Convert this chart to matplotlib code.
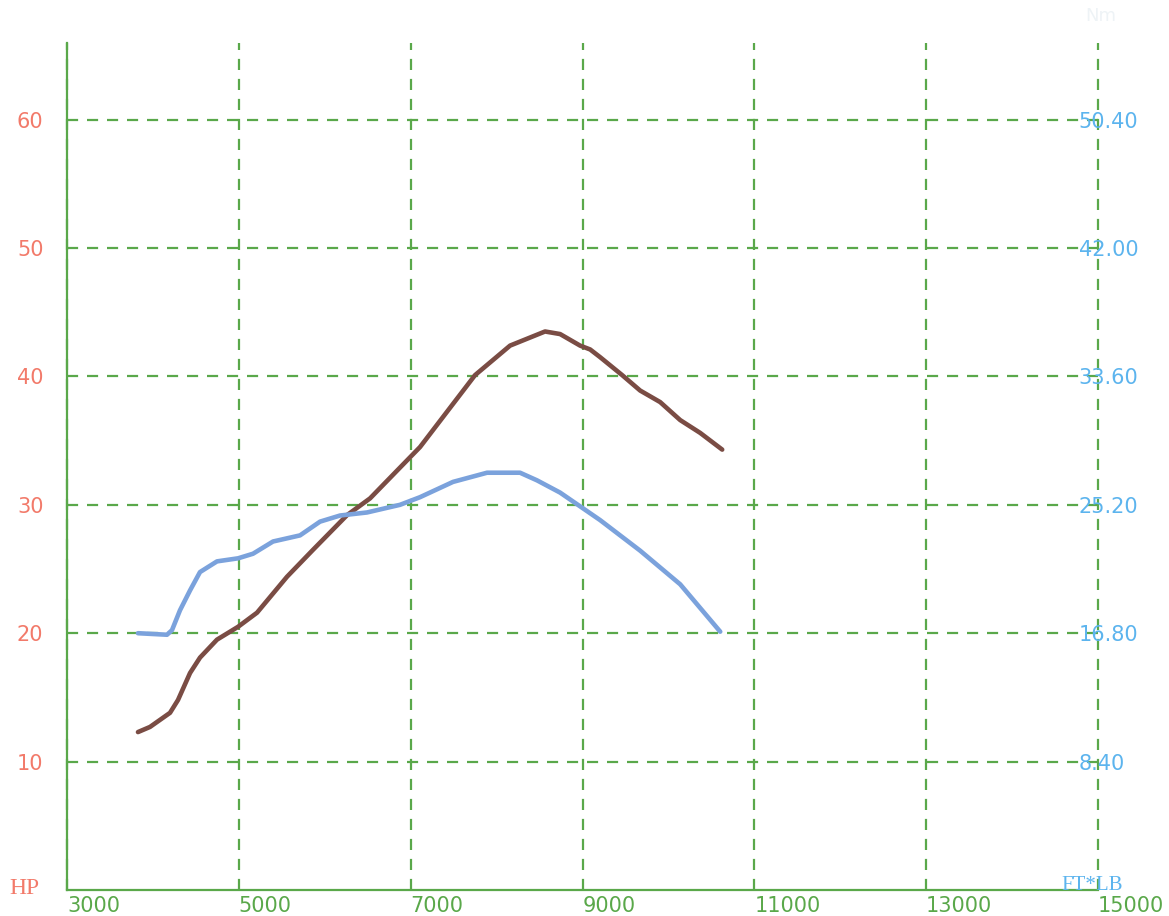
import matplotlib
matplotlib.use("Agg")
import matplotlib.pyplot as plt

# ---------- data ----------
rpm_hp = [3826, 3966, 4199, 4292, 4432, 4548, 4746, 4991, 5212, 5561, 5864,
          6260, 6527, 6876, 7109, 7749, 8157, 8564, 8739, 8972, 9089, 9205,
          9462, 9671, 9904, 10137, 10370, 10626]
hp = [12.3, 12.7, 13.8, 14.8, 16.9, 18.1, 19.5, 20.5, 21.6, 24.4, 26.5,
      29.2, 30.5, 32.9, 34.5, 40.1, 42.4, 43.5, 43.3, 42.4, 42.1, 41.5,
      40.1, 38.9, 38.0, 36.6, 35.6, 34.3]

rpm_tq = [3826, 4164, 4222, 4315, 4432, 4548, 4746, 4991, 5165, 5398, 5712,
          5945, 6178, 6492, 6876, 7109, 7493, 7889, 8273, 8471, 8739, 9205,
          9671, 10137, 10603]
torque = [16.8, 16.7, 17.0, 18.3, 19.6, 20.8, 21.5, 21.7, 22.0, 22.8, 23.2,
          24.1, 24.5, 24.7, 25.2, 25.7, 26.7, 27.3, 27.3, 26.8, 26.0, 24.2,
          22.2, 20.0, 16.9]

x_ticks = [3000, 5000, 7000, 9000, 11000, 13000, 15000]
hp_ticks = [10, 20, 30, 40, 50, 60]
tq_ticks = [8.40, 16.80, 25.20, 33.60, 42.00, 50.40]
TQ_RATIO = 0.84  # right scale / left scale

# ---------- colours ----------
green = '#5aa84a'
red = '#f27a6a'
blue = '#5cb4ee'
brown = '#7a4c44'
lblue = '#7ba2dc'

fig = plt.figure(figsize=(11.69, 9.16), dpi=100)
ax = fig.add_axes([67/1169, 1 - 890/916, (1098 - 67)/1169, (890 - 42.6)/916])
ax2 = ax.twinx()

ax.set_xlim(3000, 15000)
ax.set_ylim(0, 66)
ax2.set_ylim(0, 66 * TQ_RATIO)

ax.set_xticks(x_ticks)
ax.set_yticks(hp_ticks)
ax2.set_yticks(tq_ticks)
ax.grid(True, color=green, linestyle=(0, (5, 4)), linewidth=1.6)
ax.set_axisbelow(True)
for gl in ax.get_xgridlines() + ax.get_ygridlines():
    gl.set_clip_on(False)

ax.plot(rpm_hp, hp, color=brown, linewidth=3.3, solid_capstyle='round', zorder=3)
ax2.plot(rpm_tq, torque, color=lblue, linewidth=3.3, solid_capstyle='round', zorder=3)

for s in ['top', 'right']:
    ax.spines[s].set_visible(False)
for s in ax2.spines.values():
    s.set_visible(False)
for s in ['left', 'bottom']:
    ax.spines[s].set_color(green)
    ax.spines[s].set_linewidth(1.6)

ax.tick_params(axis='x', length=0, pad=4, labelsize=15, labelcolor=green)
ax.tick_params(axis='y', length=0, pad=17, labelsize=15, labelcolor=red)
ax2.tick_params(axis='y', length=0, pad=-14, labelsize=15, labelcolor=blue)

ax.set_xticklabels([str(v) for v in x_ticks], ha='left')
ax2.set_yticklabels(['%.2f' % v for v in tq_ticks])

fig.text(9/1169, 1 - 889/916, 'HP', color=red, fontsize=17,
         family='Liberation Serif', va='center', ha='left')
fig.text(1061/1169, 1 - 886/916, 'FT*LB', color=blue, fontsize=15,
         family='Liberation Serif', va='center', ha='left')
fig.text(1085/1169, 1 - 16/916, 'Nm', color='#eef3f6', fontsize=13,
         va='center', ha='left')

fig.savefig('out.png', dpi=100, facecolor='white')
